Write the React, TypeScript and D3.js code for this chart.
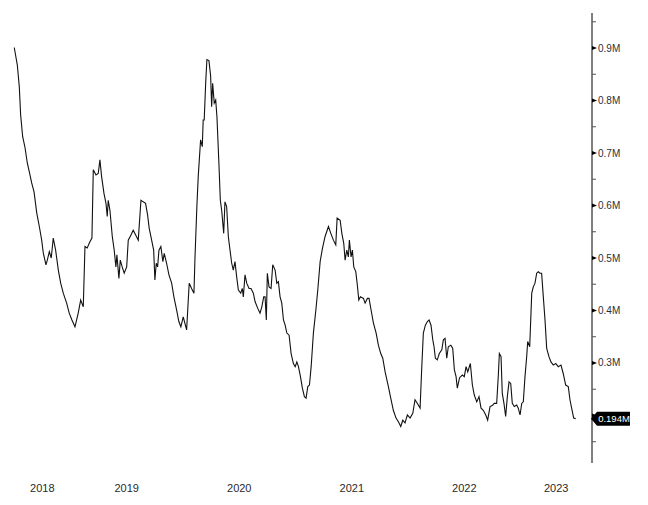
import React from "react";
import * as d3 from "d3";

// time as decimal years, values in millions
const dates: number[] = [
  2018.500, 2018.527, 2018.545, 2018.557, 2018.575, 2018.596, 2018.616, 2018.634, 2018.655, 2018.676,
  2018.700, 2018.723, 2018.744, 2018.758, 2018.782, 2018.794, 2018.812, 2018.829, 2018.847, 2018.868,
  2018.892, 2018.913, 2018.936, 2018.966, 2018.989, 2019.013, 2019.040, 2019.069, 2019.091, 2019.114,
  2019.129, 2019.149, 2019.173, 2019.191, 2019.203, 2019.227, 2019.247, 2019.262, 2019.277, 2019.298,
  2019.316, 2019.327, 2019.336, 2019.351, 2019.372, 2019.389, 2019.404, 2019.413, 2019.431, 2019.443,
  2019.460, 2019.478, 2019.500, 2019.514, 2019.538, 2019.558, 2019.580, 2019.603, 2019.627, 2019.647,
  2019.668, 2019.686, 2019.700, 2019.722, 2019.740, 2019.751, 2019.763, 2019.775, 2019.787, 2019.804,
  2019.822, 2019.834, 2019.855, 2019.876, 2019.900, 2019.920, 2019.944, 2019.964, 2019.982, 2020.003,
  2020.033, 2020.056, 2020.077, 2020.098, 2020.107, 2020.124, 2020.136, 2020.157, 2020.172, 2020.180,
  2020.189, 2020.202, 2020.213, 2020.231, 2020.246, 2020.255, 2020.264, 2020.278, 2020.291, 2020.302,
  2020.320, 2020.332, 2020.344, 2020.362, 2020.373, 2020.388, 2020.403, 2020.418, 2020.433, 2020.447,
  2020.462, 2020.477, 2020.492, 2020.513, 2020.527, 2020.536, 2020.551, 2020.566, 2020.587, 2020.604,
  2020.625, 2020.640, 2020.664, 2020.684, 2020.700, 2020.717, 2020.729, 2020.740, 2020.749, 2020.764,
  2020.782, 2020.797, 2020.818, 2020.833, 2020.847, 2020.862, 2020.877, 2020.892, 2020.907, 2020.922,
  2020.942, 2020.960, 2020.980, 2020.996, 2021.011, 2021.025, 2021.043, 2021.060, 2021.078, 2021.093,
  2021.108, 2021.123, 2021.138, 2021.158, 2021.180, 2021.197, 2021.218, 2021.238, 2021.262, 2021.292,
  2021.313, 2021.336, 2021.357, 2021.369, 2021.396, 2021.411, 2021.428, 2021.440, 2021.455, 2021.469,
  2021.478, 2021.493, 2021.505, 2021.517, 2021.535, 2021.547, 2021.562, 2021.576, 2021.603, 2021.618,
  2021.638, 2021.653, 2021.671, 2021.692, 2021.716, 2021.736, 2021.757, 2021.775, 2021.796, 2021.825,
  2021.846, 2021.869, 2021.893, 2021.914, 2021.935, 2021.953, 2021.973, 2021.994, 2022.018, 2022.042,
  2022.062, 2022.083, 2022.107, 2022.122, 2022.136, 2022.154, 2022.172, 2022.187, 2022.204, 2022.220,
  2022.231, 2022.243, 2022.260, 2022.278, 2022.300, 2022.314, 2022.329, 2022.344, 2022.358, 2022.380,
  2022.397, 2022.412, 2022.427, 2022.438, 2022.458, 2022.483, 2022.500, 2022.516, 2022.531, 2022.554,
  2022.572, 2022.589, 2022.611, 2022.631, 2022.649, 2022.669, 2022.691, 2022.708, 2022.729, 2022.749,
  2022.767, 2022.788, 2022.803, 2022.812, 2022.827, 2022.838, 2022.853, 2022.868, 2022.883, 2022.898,
  2022.913, 2022.927, 2022.945, 2022.966, 2022.980, 2022.996, 2023.011, 2023.025, 2023.040, 2023.055,
  2023.064, 2023.082, 2023.100, 2023.114, 2023.129, 2023.144, 2023.158, 2023.173, 2023.188, 2023.203,
  2023.218, 2023.233, 2023.253, 2023.271, 2023.292, 2023.313, 2023.336, 2023.360, 2023.380, 2023.402,
  2023.425, 2023.440, 2023.455, 2023.473, 2023.491,
];

const values: number[] = [
  0.901, 0.868, 0.826, 0.772, 0.731, 0.710, 0.681, 0.664, 0.643, 0.626,
  0.586, 0.560, 0.534, 0.510, 0.487, 0.496, 0.512, 0.500, 0.538, 0.515,
  0.477, 0.452, 0.433, 0.414, 0.395, 0.382, 0.369, 0.395, 0.420, 0.407,
  0.522, 0.519, 0.531, 0.538, 0.668, 0.658, 0.661, 0.687, 0.655, 0.623,
  0.604, 0.579, 0.610, 0.591, 0.541, 0.515, 0.483, 0.506, 0.461, 0.496,
  0.483, 0.471, 0.483, 0.534, 0.544, 0.553, 0.544, 0.534, 0.610, 0.607,
  0.604, 0.582, 0.557, 0.534, 0.515, 0.458, 0.490, 0.483, 0.515, 0.522,
  0.493, 0.509, 0.490, 0.468, 0.452, 0.426, 0.401, 0.379, 0.369, 0.388,
  0.363, 0.452, 0.442, 0.433, 0.499, 0.598, 0.655, 0.725, 0.712, 0.763,
  0.763, 0.833, 0.878, 0.876, 0.847, 0.788, 0.833, 0.795, 0.801, 0.769,
  0.677, 0.610, 0.591, 0.547, 0.607, 0.598, 0.541, 0.515, 0.490, 0.477,
  0.493, 0.464, 0.439, 0.433, 0.442, 0.426, 0.468, 0.452, 0.442, 0.442,
  0.433, 0.417, 0.404, 0.395, 0.407, 0.426, 0.426, 0.382, 0.471, 0.445,
  0.442, 0.487, 0.477, 0.452, 0.455, 0.426, 0.414, 0.382, 0.372, 0.357,
  0.353, 0.318, 0.299, 0.293, 0.302, 0.293, 0.274, 0.252, 0.236, 0.233,
  0.255, 0.258, 0.293, 0.357, 0.401, 0.439, 0.493, 0.518, 0.541, 0.560,
  0.547, 0.534, 0.525, 0.576, 0.572, 0.547, 0.528, 0.496, 0.515, 0.502,
  0.534, 0.502, 0.515, 0.483, 0.474, 0.452, 0.420, 0.426, 0.423, 0.414,
  0.423, 0.423, 0.401, 0.376, 0.357, 0.334, 0.318, 0.309, 0.283, 0.255,
  0.233, 0.210, 0.195, 0.188, 0.179, 0.191, 0.186, 0.201, 0.195, 0.204,
  0.230, 0.223, 0.214, 0.293, 0.357, 0.372, 0.379, 0.382, 0.372, 0.344,
  0.331, 0.309, 0.306, 0.318, 0.325, 0.344, 0.347, 0.309, 0.331, 0.334,
  0.328, 0.287, 0.274, 0.252, 0.272, 0.277, 0.274, 0.293, 0.283, 0.299,
  0.258, 0.239, 0.226, 0.236, 0.214, 0.210, 0.201, 0.191, 0.217, 0.219,
  0.223, 0.223, 0.277, 0.318, 0.312, 0.242, 0.223, 0.198, 0.236, 0.264,
  0.261, 0.223, 0.217, 0.220, 0.214, 0.201, 0.223, 0.226, 0.274, 0.312,
  0.341, 0.331, 0.433, 0.445, 0.452, 0.471, 0.474, 0.471, 0.471, 0.426,
  0.382, 0.328, 0.312, 0.302, 0.296, 0.299, 0.293, 0.296, 0.280, 0.258,
  0.255, 0.230, 0.214, 0.195, 0.194,
];

const years = [2018, 2019, 2020, 2021, 2022, 2023];
const majorTicks = [0.2, 0.3, 0.4, 0.5, 0.6, 0.7, 0.8, 0.9];
const minorTicks = [0.15, 0.25, 0.35, 0.45, 0.55, 0.65, 0.75, 0.85, 0.95];

const width = 648;
const height = 505;

// decimal year -> Date
function toDate(t: number) {
  const y = Math.floor(t);
  const a = Date.UTC(y, 0, 1);
  const b = Date.UTC(y + 1, 0, 1);
  return new Date(a + (t - y) * (b - a));
}

const App: React.FC = () => {
  const axisX = 592;
  const top = 13;
  const bottom = 463;

  const xScale = d3.scaleUtc()
    .domain([toDate(2018.5), toDate(2023.636)])
    .range([14.25, axisX]);

  const yScale = d3.scaleLinear()
    .domain([0.1095, 0.9667])
    .range([bottom, top]);

  const points = dates.map((d, i) => ({ date: toDate(d), value: values[i] }));

  const line = d3.line<{ date: Date; value: number }>()
    .x((d) => xScale(d.date))
    .y((d) => yScale(d.value));

  const last = points[points.length - 1];
  const lastY = yScale(last.value);
  const [d0, d1] = xScale.domain();

  const font = "'Liberation Sans', Arial, sans-serif";

  return (
    <svg
      width={width}
      height={height}
      style={{ position: "absolute", left: 0, top: 0, background: "#fff" }}
    >
      <path d={line(points) ?? ""} fill="none" stroke="#111" strokeWidth={1.1} />

      {/* y axis (right) */}
      <line x1={axisX} x2={axisX} y1={top} y2={bottom} stroke="#000" strokeWidth={1} />
      {minorTicks.map((v) => (
        <line key={v} x1={axisX} x2={axisX + 4} y1={yScale(v)} y2={yScale(v)} stroke="#555" strokeWidth={1} />
      ))}
      {majorTicks.map((v) => {
        const y = yScale(v);
        return (
          <g key={v}>
            <path d={`M${axisX},${y - 2}L${axisX + 5},${y}L${axisX},${y + 2}Z`} fill="#000" />
            {Math.abs(y - lastY) > 12 && (
              <text x={axisX + 6} y={y + 3.5} fontSize={10} fontFamily={font} fill="#2a2f3a">
                {`${v.toFixed(1)}M`}
              </text>
            )}
          </g>
        );
      })}

      {/* last value badge */}
      <path
        d={`M${axisX - 1},${lastY}L${axisX + 5},${lastY - 7}L${axisX + 38},${lastY - 7}L${axisX + 38},${lastY + 7}L${axisX + 5},${lastY + 7}Z`}
        fill="#000"
      />
      <text x={axisX + 22} y={lastY + 3.5} textAnchor="middle" fontSize={9.5} fontFamily={font} fill="#fff">
        {`${last.value.toFixed(3)}M`}
      </text>

      {/* year labels, centred on the visible part of each year */}
      {years.map((y) => {
        const s = Math.max(+toDate(y), +d0);
        const e = Math.min(+toDate(y + 1), +d1);
        const cx = (xScale(new Date(s)) + xScale(new Date(e))) / 2;
        return (
          <text key={y} x={cx} y={492} textAnchor="middle" fontSize={11} fontFamily={font} fill="#2a2a2a">
            {y}
          </text>
        );
      })}
    </svg>
  );
};

export default App;
